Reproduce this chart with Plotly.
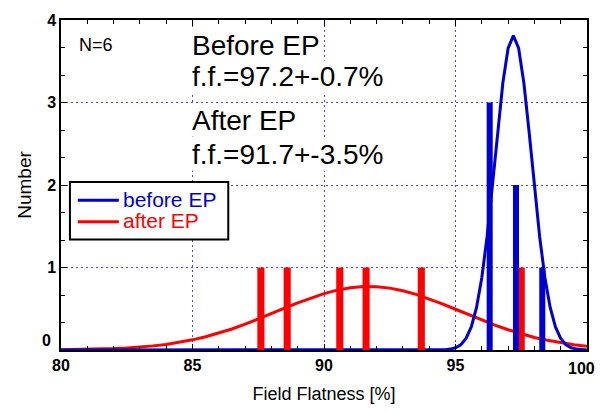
import plotly.graph_objects as go

# Histogram of field flatness per cavity (N=6)
before_pos = [96.3, 97.3, 98.3]
before_counts = [3, 2, 1]
after_pos = [87.6, 88.6, 90.6, 91.6, 93.7, 97.5]
after_counts = [1, 1, 1, 1, 1, 1]

# Gaussian fit curves
fit_before_x = [80.0, 94.0, 94.4, 94.6, 94.8, 95.0, 95.2, 95.4, 95.6, 95.8, 96.0,
                96.2, 96.4, 96.6, 96.8, 97.0, 97.2, 97.4, 97.6, 97.8, 98.0,
                98.2, 98.4, 98.6, 98.8, 99.0, 99.2, 99.4, 99.6, 99.8, 100.0]
fit_before_y = [0.0, 0.0, 0.001, 0.004, 0.011, 0.027, 0.064, 0.140, 0.280, 0.516, 0.877,
                1.373, 1.983, 2.639, 3.236, 3.658, 3.810, 3.658, 3.236, 2.639, 1.983,
                1.373, 0.877, 0.516, 0.280, 0.140, 0.064, 0.027, 0.011, 0.004, 0.001]

fit_after_x = [80.0, 80.5, 81.0, 81.5, 82.0, 82.5, 83.0, 83.5, 84.0, 84.5, 85.0,
               85.5, 86.0, 86.5, 87.0, 87.5, 88.0, 88.5, 89.0, 89.5, 90.0,
               90.5, 91.0, 91.5, 92.0, 92.5, 93.0, 93.5, 94.0, 94.5, 95.0,
               95.5, 96.0, 96.5, 97.0, 97.5, 98.0, 98.5, 99.0, 99.5, 100.0]
fit_after_y = [0.003, 0.005, 0.007, 0.011, 0.017, 0.024, 0.035, 0.050, 0.068, 0.093, 0.123,
               0.160, 0.204, 0.255, 0.313, 0.375, 0.440, 0.507, 0.572, 0.632, 0.684,
               0.726, 0.755, 0.769, 0.767, 0.750, 0.719, 0.675, 0.620, 0.559, 0.494,
               0.427, 0.362, 0.301, 0.245, 0.195, 0.152, 0.117, 0.087, 0.064, 0.046]

x_ticks = [80, 85, 90, 95, 100]
y_ticks = [0, 1, 2, 3, 4]

BLUE = "#0000d0"
RED = "#ff0000"
GRID = "#4848ff"
FONT = "Liberation Sans, Arial, sans-serif"

fig = go.Figure()

fig.add_trace(go.Scatter(x=fit_after_x, y=fit_after_y, mode="lines",
                         line=dict(color=RED, width=3), showlegend=False))
fig.add_trace(go.Scatter(x=fit_before_x, y=fit_before_y, mode="lines",
                         line=dict(color=BLUE, width=3), showlegend=False))

# bars on an overlaid axis so they sit above the curves
fig.add_trace(go.Bar(x=after_pos, y=after_counts, width=0.27, marker_color=RED,
                     marker_line_width=0, xaxis="x2", yaxis="y", showlegend=False))
fig.add_trace(go.Bar(x=before_pos, y=before_counts, width=0.23, marker_color=BLUE,
                     marker_line_width=0, xaxis="x2", yaxis="y", showlegend=False))

tickfont = dict(family=FONT, size=16, color="black")
# last x label and the "0" label are placed as annotations (edge label / raised zero)
x_text = ["<b>%d</b>" % v for v in x_ticks[:-1]] + [""]
y_text = [""] + ["<b>%d</b>" % v for v in y_ticks[1:]]

fig.update_layout(
    width=600, height=412,
    margin=dict(l=61, r=11, t=20, b=58),
    paper_bgcolor="white", plot_bgcolor="white",
    barmode="overlay",
    xaxis=dict(range=[80, 100], tickvals=x_ticks, ticktext=x_text,
               ticks="inside", ticklen=6, tickwidth=1, tickcolor="black",
               minor=dict(dtick=1, ticks="inside", ticklen=4, tickcolor="black", showgrid=False),
               showline=True, linecolor="black", linewidth=1.5, mirror="ticks",
               showgrid=True, gridcolor=GRID, griddash="2px,3px", gridwidth=1,
               zeroline=False, tickfont=tickfont,
               title=dict(text="Field Flatness [%]", font=dict(family=FONT, size=18, color="black"),
                          standoff=14)),
    xaxis2=dict(range=[80, 100], overlaying="x", visible=False),
    yaxis=dict(range=[0, 4], tickvals=y_ticks, ticktext=y_text,
               ticks="inside", ticklen=6, tickwidth=1, tickcolor="black",
               minor=dict(dtick=1/3, ticks="inside", ticklen=4, tickcolor="black", showgrid=False),
               showline=True, linecolor="black", linewidth=1.5, mirror="ticks",
               showgrid=True, gridcolor=GRID, griddash="2px,3px", gridwidth=1,
               zeroline=False, tickfont=tickfont,
               title=dict(text="Number", font=dict(family=FONT, size=19, color="black"),
                          standoff=10)),
    font=dict(family=FONT),
)

fig.add_annotation(x=x_ticks[-1], y=0, yref="paper", yshift=-8, xshift=10, text="<b>%d</b>" % x_ticks[-1],
                   showarrow=False, xanchor="right", yanchor="top", font=tickfont)
fig.add_annotation(x=80, y=y_ticks[0], xref="x", yshift=10, xshift=-8, text="<b>%d</b>" % y_ticks[0],
                   showarrow=False, xanchor="right", yanchor="middle", font=tickfont)

big = dict(family=FONT, size=28, color="black")
fig.add_annotation(x=80.6, y=3.70, text="N=6", showarrow=False, xanchor="left", yanchor="middle",
                   font=dict(family=FONT, size=18, color="black"))
for txt, yy in [("Before EP", 3.69), ("f.f.=97.2+-0.7%", 3.31),
                ("After EP", 2.78), ("f.f.=91.7+-3.5%", 2.37)]:
    fig.add_annotation(x=84.96, y=yy, text=txt, showarrow=False, xanchor="left", yanchor="middle",
                       font=big, bgcolor="white", borderpad=0)

# legend box
fig.add_shape(type="rect", xref="paper", yref="paper", x0=0.017, x1=0.318, y0=0.335, y1=0.509,
              line=dict(color="black", width=2), fillcolor="white", layer="above")
legend_items = [("before EP", BLUE, 0.454), ("after EP", RED, 0.389)]
for label, col, yy in legend_items:
    fig.add_shape(type="line", xref="paper", yref="paper", x0=0.032, x1=0.110, y0=yy, y1=yy,
                  line=dict(color=col, width=3), layer="above")
    fig.add_annotation(xref="paper", yref="paper", x=0.114, y=yy + 0.002, text=label, showarrow=False,
                       xanchor="left", yanchor="middle", font=dict(family=FONT, size=21, color=col))

fig.write_html("out.html")
